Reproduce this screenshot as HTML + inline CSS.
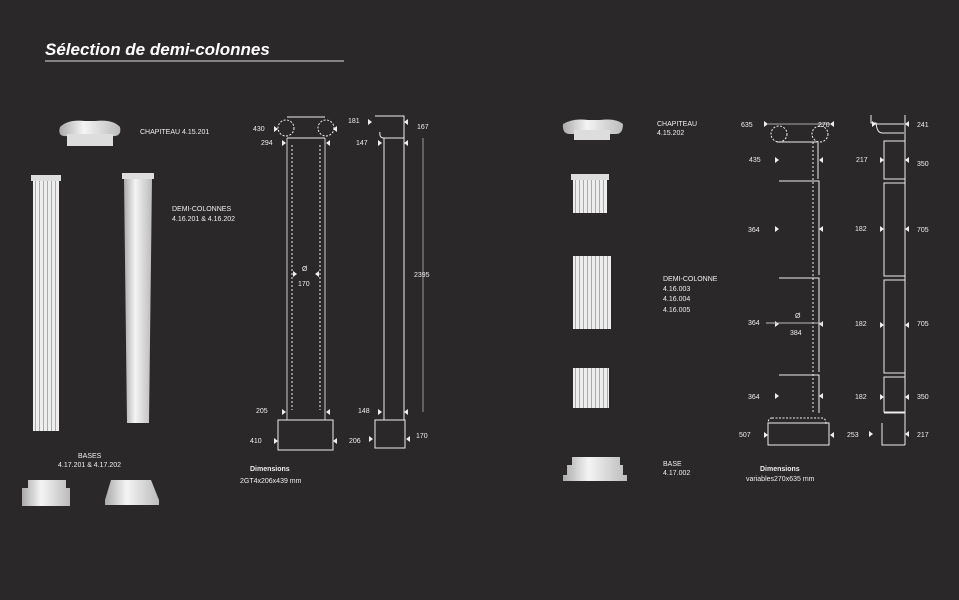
<!DOCTYPE html>
<html><head><meta charset="utf-8"><style>
body{margin:0;background:#2b2829;}
svg{display:block}
text{font-family:"Liberation Sans",sans-serif;fill:#eee;font-size:7px}
.b{font-weight:bold}
</style></head><body>
<svg width="959" height="600" viewBox="0 0 959 600" xmlns="http://www.w3.org/2000/svg">
<defs>
<linearGradient id="col" x1="0" x2="1"><stop offset="0" stop-color="#aaa"/><stop offset="0.4" stop-color="#f4f4f4"/><stop offset="1" stop-color="#bbb"/></linearGradient>
<pattern id="fl" width="4" height="10" patternUnits="userSpaceOnUse"><rect width="4" height="10" fill="#eee"/><rect x="3" width="1" height="10" fill="#aaa"/></pattern>
</defs>
<rect width="959" height="600" fill="#2b2829"/>
<text x="45" y="55" style="font-size:17px;font-style:italic;font-weight:bold;fill:#fff">Sélection de demi-colonnes</text>
<line x1="45" y1="61" x2="344" y2="61" stroke="#ddd" stroke-width="1"/>

<!-- left photos -->
<path d="M60 127 q8-8 25-6 h10 q18-2 25 6 q2 10-8 9 h-45 q-10 1-7-9z" fill="url(#col)"/>
<rect x="67" y="134" width="46" height="12" fill="#ddd"/>
<text x="140" y="134">CHAPITEAU 4.15.201</text>
<rect x="31" y="175" width="30" height="6" fill="#ddd"/>
<rect x="33" y="181" width="26" height="250" fill="url(#fl)"/>
<rect x="122" y="173" width="32" height="6" fill="#ddd"/>
<path d="M124 179 h28 l-3 244 h-22z" fill="url(#col)"/>
<text x="172" y="211">DEMI-COLONNES</text>
<text x="172" y="221">4.16.201 &amp; 4.16.202</text>
<text x="78" y="458">BASES</text>
<text x="58" y="467">4.17.201 &amp; 4.17.202</text>
<path d="M28 480 h38 v8 h4 v18 h-48 v-18 h6z" fill="url(#col)"/>
<path d="M105 500 l6-20 h40 l8 20 v5 h-54z" fill="url(#col)"/>

<!-- left drawing -->
<g stroke="#eee" stroke-width="1" fill="none">
<circle cx="286" cy="128" r="8" stroke-dasharray="2 1.5"/>
<circle cx="326" cy="128" r="8" stroke-dasharray="2 1.5"/>
<path d="M287 117 h38 M287 138 h38"/>
<line x1="287" y1="138" x2="287" y2="420" stroke="#ccc"/>
<line x1="325" y1="138" x2="325" y2="420" stroke="#ccc"/>
<line x1="292" y1="145" x2="292" y2="410" stroke-dasharray="2 2"/>
<line x1="320" y1="145" x2="320" y2="410" stroke-dasharray="2 2"/>
<rect x="278" y="420" width="55" height="30"/>
<path d="M375 116 h29 v22 h-20 q-5 0-4-6 M384 138 v282 M404 138 v282"/>
<rect x="375" y="420" width="30" height="28"/>
<line x1="423" y1="138" x2="423" y2="412" stroke="#999"/>
</g>
<g fill="#eee">
<path d="M274 126 l4 3 -4 3z M337 126 l-4 3 4 3z M282 140 l4 3-4 3z M330 140 l-4 3 4 3z M368 119 l4 3-4 3z M408 119 l-4 3 4 3z M378 140 l4 3-4 3z M408 140 l-4 3 4 3z"/>
<path d="M282 409 l4 3-4 3z M330 409 l-4 3 4 3z M274 438 l4 3-4 3z M337 438 l-4 3 4 3z M378 409 l4 3-4 3z M408 409 l-4 3 4 3z M369 436 l4 3-4 3z M410 436 l-4 3 4 3z M293 271 l4 3-4 3z M319 271 l-4 3 4 3z"/>
</g>
<text x="253" y="131">430</text><text x="261" y="145">294</text>
<text x="348" y="123">181</text><text x="356" y="145">147</text>
<text x="417" y="129">167</text><text x="414" y="277">2395</text>
<text x="302" y="271">Ø</text><text x="298" y="286">170</text>
<text x="256" y="413">205</text><text x="250" y="443">410</text>
<text x="358" y="413">148</text><text x="349" y="443">206</text>
<text x="416" y="438">170</text>
<text x="250" y="471" class="b">Dimensions</text>
<text x="240" y="483">2GT4x206x439 mm</text>

<!-- right photos -->
<path d="M563 124 q10-6 25-4 h12 q16-2 23 4 q0 10-7 10 h-46 q-8 0-7-10z" fill="url(#col)"/>
<rect x="574" y="130" width="36" height="10" fill="#ddd"/>
<text x="657" y="126">CHAPITEAU</text><text x="657" y="135">4.15.202</text>
<rect x="571" y="174" width="38" height="6" fill="#ddd"/>
<rect x="573" y="180" width="34" height="33" fill="url(#fl)"/>
<rect x="573" y="256" width="38" height="73" fill="url(#fl)"/>
<rect x="573" y="368" width="36" height="40" fill="url(#fl)"/>
<text x="663" y="281">DEMI-COLONNE</text>
<text x="663" y="291">4.16.003</text><text x="663" y="301">4.16.004</text><text x="663" y="312">4.16.005</text>
<path d="M572 457 h48 v8 h3 v10 h4 v6 h-64 v-6 h4 v-10 h5z" fill="url(#col)"/>
<text x="663" y="466">BASE</text><text x="663" y="475">4.17.002</text>

<!-- right drawing -->
<g stroke="#eee" stroke-width="1" fill="none">
<line x1="768" y1="124" x2="830" y2="124" stroke="#aaa"/>
<circle cx="779" cy="134" r="8" stroke-dasharray="2 1.5"/>
<circle cx="820" cy="134" r="8" stroke-dasharray="2 1.5"/>
<path d="M777 142 h40 M818 142 v37 M779 181 h40 v94 M779 278 h40 v94 M779 375 h40 v38"/>
<line x1="813" y1="142" x2="813" y2="413" stroke-dasharray="2 2"/>
<path d="M772 418 h50 q4 0 4 6 M772 418 q-4 0-4 6" stroke-dasharray="2 1.5"/>
<rect x="768" y="423" width="61" height="22"/>
<path d="M871 115 v8 h5 q1 10 6 10 h22 M874 124 h30 M884 141 h21 v38 h-21z M884 183 h21 v93 h-21z M884 280 h21 v93 h-21z M884 377 h21 v35 h-21z M884 413 h21 M882 423 v22 h23" />
<line x1="905" y1="115" x2="905" y2="445"/>
</g>
<g fill="#eee">
<path d="M764 121 l4 3-4 3z M834 121 l-4 3 4 3z M775 157 l4 3-4 3z M823 157 l-4 3 4 3z M775 226 l4 3-4 3z M823 226 l-4 3 4 3z M775 321 l4 3-4 3z M823 321 l-4 3 4 3z M775 393 l4 3-4 3z M823 393 l-4 3 4 3z M764 432 l4 3-4 3z M834 432 l-4 3 4 3z"/>
<path d="M872 121 l4 3-4 3z M909 121 l-4 3 4 3z M880 157 l4 3-4 3z M909 157 l-4 3 4 3z M880 226 l4 3-4 3z M909 226 l-4 3 4 3z M880 322 l4 3-4 3z M909 322 l-4 3 4 3z M880 394 l4 3-4 3z M909 394 l-4 3 4 3z M869 431 l4 3-4 3z M909 431 l-4 3 4 3z"/>
</g>
<line x1="766" y1="323" x2="822" y2="323" stroke="#bbb"/>
<text x="741" y="127">635</text><text x="818" y="127">270</text><text x="917" y="127">241</text>
<text x="749" y="162">435</text><text x="856" y="162">217</text><text x="917" y="166">350</text>
<text x="748" y="232">364</text><text x="855" y="231">182</text><text x="917" y="232">705</text>
<text x="795" y="318">Ø</text><text x="790" y="335">384</text>
<text x="748" y="325">364</text><text x="855" y="326">182</text><text x="917" y="326">705</text>
<text x="748" y="399">364</text><text x="855" y="399">182</text><text x="917" y="399">350</text>
<text x="739" y="437">507</text><text x="847" y="437">253</text><text x="917" y="437">217</text>
<text x="760" y="471" class="b">Dimensions</text>
<text x="746" y="481">variables270x635 mm</text>
</svg>
</body></html>
